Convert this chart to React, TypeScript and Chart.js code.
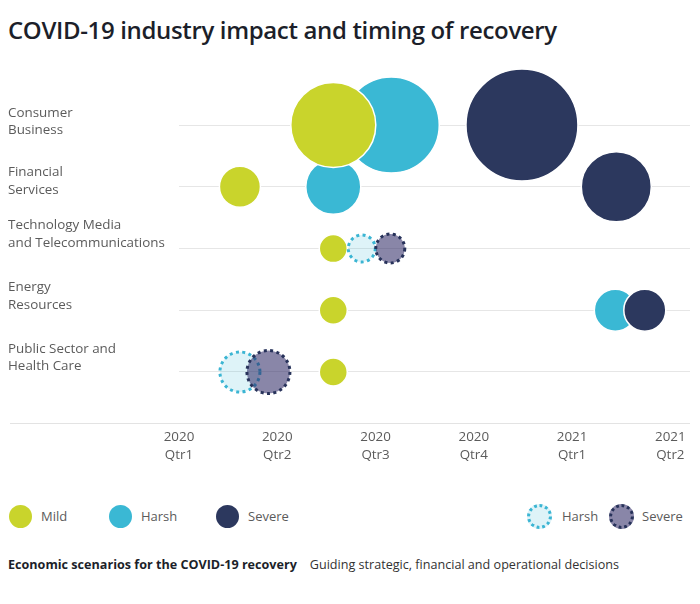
import { useEffect, useRef } from 'react';
import Chart from 'chart.js/auto';

const FONT = '"Open Sans", sans-serif';
const TEXT = '#5b5b5b';

// rows, top to bottom
const categoryLines = [
    ['Consumer', 'Business'],
    ['Financial', 'Services'],
    ['Technology Media', 'and Telecommunications'],
    ['Energy', 'Resources'],
    ['Public Sector and', 'Health Care'],
];
const rowValues = [5, 4, 3, 2, 1];
// where each row label sits on the y scale (labels are not exactly on the grid lines)
const rowLabelValues = [5.05, 4.09, 3.23, 2.23, 1.23];

const quarterTicks = [0, 1, 2, 3, 4, 5];
const quarterLabels = [
    ['2020', 'Qtr1'],
    ['2020', 'Qtr2'],
    ['2020', 'Qtr3'],
    ['2020', 'Qtr4'],
    ['2021', 'Qtr1'],
    ['2021', 'Qtr2'],
];

// position on the quarter axis and bubble radius (px), per row; null = no bubble
const mildQuarter = [1.57, 0.62, 1.57, 1.57, 1.57];
const mildRadius = [42.5, 20.5, 14, 14, 14];
const harshQuarter = [2.16, 1.57, null, 4.44, null];
const harshRadius = [48, 27.5, null, 21, null];
const severeQuarter = [3.49, 4.45, null, 4.74, null];
const severeRadius = [56, 35, null, 21, null];
const harshProjQuarter = [null, null, 1.86, null, 0.62];
const harshProjRadius = [null, null, 15, null, 21.5];
const severeProjQuarter = [null, null, 2.15, null, 0.91];
const severeProjRadius = [null, null, 16, null, 23];

const FILL: Record<string, string> = {
    mild: '#c9d42c',
    harsh: '#3ab8d4',
    severe: '#2c385e',
    harshProj: 'rgba(59,183,213,0.17)',
    severeProj: 'rgba(45,40,100,0.56)',
};
const DOTS: Record<string, string> = {
    harshProj: '#3bb5d3',
    severeProj: '#27325a',
};

type Pt = { x: number; y: number; r: number; kind: string };

function pt(kind: string, q: (number | null)[], r: (number | null)[], i: number): Pt | null {
    if (q[i] === null || r[i] === null) return null;
    return { x: q[i] as number, y: rowValues[i], r: r[i] as number, kind };
}

const Y_MIN = 0.174;
const Y_MAX = 6.053;

// full-width bottom rule and dotted outlines for the projected bubbles
const extras = {
    id: 'extras',
    beforeDatasetsDraw(chart: any) {
        const { ctx, chartArea, width } = chart;
        ctx.save();
        ctx.strokeStyle = '#e3e3e3';
        ctx.lineWidth = 1;
        ctx.beginPath();
        ctx.moveTo(2, Math.round(chartArea.bottom) + 0.5);
        ctx.lineTo(width - 2, Math.round(chartArea.bottom) + 0.5);
        ctx.stroke();
        ctx.restore();
    },
    afterDatasetDraw(chart: any, args: any) {
        const ds = chart.data.datasets[args.index];
        const ctx = chart.ctx;
        args.meta.data.forEach((el: any, j: number) => {
            const p = ds.data[j] as Pt;
            if (!DOTS[p.kind]) return;
            const r = el.options.radius - 1.5;
            ctx.save();
            ctx.beginPath();
            ctx.arc(el.x, el.y, r, 0, Math.PI * 2);
            ctx.fillStyle = FILL[p.kind];
            ctx.fill();
            ctx.setLineDash([3, 3.4]);
            ctx.lineWidth = 3;
            ctx.strokeStyle = DOTS[p.kind];
            ctx.stroke();
            ctx.restore();
        });
    },
};

function Dot({ kind, size }: { kind: string; size: number }) {
    const dotted = !!DOTS[kind];
    return (
        <div
            style={{
                width: size,
                height: size,
                borderRadius: '50%',
                boxSizing: 'border-box',
                background: FILL[kind],
                border: dotted ? `3px dotted ${DOTS[kind]}` : 'none',
            }}
        />
    );
}

const legendItems = [
    { kind: 'mild', label: 'Mild', left: 1, gap: 9 },
    { kind: 'harsh', label: 'Harsh', left: 101, gap: 9 },
    { kind: 'severe', label: 'Severe', left: 208, gap: 9 },
    { kind: 'harshProj', label: 'Harsh', left: 519, gap: 10 },
    { kind: 'severeProj', label: 'Severe', left: 601, gap: 8 },
];

export default function App() {
    const canvasRef = useRef<HTMLCanvasElement>(null);

    useEffect(() => {
        if (!canvasRef.current) return;

        const datasets = categoryLines.map((lines, i) => ({
            label: lines.join(' '),
            data: [
                pt('harsh', harshQuarter, harshRadius, i),
                pt('mild', mildQuarter, mildRadius, i),
                pt('severe', severeQuarter, severeRadius, i),
                pt('harshProj', harshProjQuarter, harshProjRadius, i),
                pt('severeProj', severeProjQuarter, severeProjRadius, i),
            ].filter(Boolean) as Pt[],
            backgroundColor: (c: any) => (DOTS[c.raw?.kind] ? 'transparent' : FILL[c.raw?.kind]),
            borderColor: '#ffffff',
            borderWidth: (c: any) => (DOTS[c.raw?.kind] ? 0 : 1.5),
            clip: false as const,
        }));

        Chart.defaults.font.family = FONT;

        const chart = new Chart(canvasRef.current, {
            type: 'bubble',
            data: { datasets },
            options: {
                animation: false,
                responsive: true,
                maintainAspectRatio: false,
                events: [],
                layout: { autoPadding: false, padding: { top: 0, right: 2, bottom: 0, left: 0 } },
                plugins: {
                    legend: { display: false },
                    tooltip: { enabled: false },
                },
                scales: {
                    x: {
                        type: 'linear',
                        min: 0,
                        max: 5.2,
                        afterBuildTicks: (s: any) => {
                            s.ticks = quarterTicks.map(v => ({ value: v }));
                        },
                        afterFit: (s: any) => {
                            s.height = 52;
                        },
                        ticks: {
                            autoSkip: false,
                            maxRotation: 0,
                            padding: 6,
                            color: TEXT,
                            font: { size: 13.4, lineHeight: 1.28 },
                            callback: (_v: any, i: number) => quarterLabels[i],
                        },
                        grid: { display: false, drawTicks: false },
                        border: { display: false },
                    },
                    y: {
                        type: 'linear',
                        position: 'left',
                        min: Y_MIN,
                        max: Y_MAX,
                        afterBuildTicks: (s: any) => {
                            s.ticks = rowValues.map(v => ({ value: v }));
                        },
                        afterFit: (s: any) => {
                            s.width = 0;
                            s.paddingTop = 0;
                            s.paddingBottom = 0;
                        },
                        ticks: { display: false },
                        grid: { color: '#e6e6e6', lineWidth: 1, drawTicks: false },
                        border: { display: false },
                    },
                    yLabels: {
                        type: 'linear',
                        position: 'left',
                        min: Y_MIN,
                        max: Y_MAX,
                        afterBuildTicks: (s: any) => {
                            s.ticks = rowLabelValues.map(v => ({ value: v }));
                        },
                        afterFit: (s: any) => {
                            s.width = 171;
                            s.paddingTop = 0;
                            s.paddingBottom = 0;
                        },
                        ticks: {
                            autoSkip: false,
                            crossAlign: 'far',
                            color: TEXT,
                            font: { size: 13.4, lineHeight: 1.3 },
                            callback: (_v: any, i: number) => categoryLines[i],
                        },
                        grid: { display: false, drawTicks: false },
                        border: { display: false },
                    },
                },
            },
            plugins: [extras],
        });

        return () => {
            chart.destroy();
        };
    }, []);

    return (
        <div style={{ position: 'relative', width: 684, height: 588, fontFamily: FONT }}>
            <div
                style={{
                    position: 'absolute',
                    left: 0,
                    top: 7,
                    fontSize: 24,
                    lineHeight: '30px',
                    fontWeight: 600,
                    letterSpacing: -0.35,
                    color: '#1c1f2a',
                    whiteSpace: 'nowrap',
                }}
            >
                COVID-19 industry impact and timing of recovery
            </div>

            <div style={{ position: 'absolute', left: 0, top: 52, width: 684, height: 415 }}>
                <canvas ref={canvasRef} />
            </div>

            {legendItems.map(item => (
                <div
                    key={item.kind}
                    style={{
                        position: 'absolute',
                        left: item.left,
                        top: 493,
                        height: 30,
                        display: 'flex',
                        alignItems: 'center',
                        gap: item.gap,
                        fontSize: 13,
                        color: TEXT,
                    }}
                >
                    <Dot kind={item.kind} size={DOTS[item.kind] ? 25 : 23} />
                    <span>{item.label}</span>
                </div>
            ))}

            <div
                style={{
                    position: 'absolute',
                    left: 0,
                    top: 547,
                    lineHeight: '20px',
                    fontSize: 12.6,
                    color: '#1c1f2a',
                    whiteSpace: 'nowrap',
                }}
            >
                <span style={{ fontWeight: 700 }}>Economic scenarios for the COVID-19 recovery</span>
                <span style={{ marginLeft: 13, color: '#333' }}>Guiding strategic, financial and operational decisions</span>
            </div>
        </div>
    );
}
